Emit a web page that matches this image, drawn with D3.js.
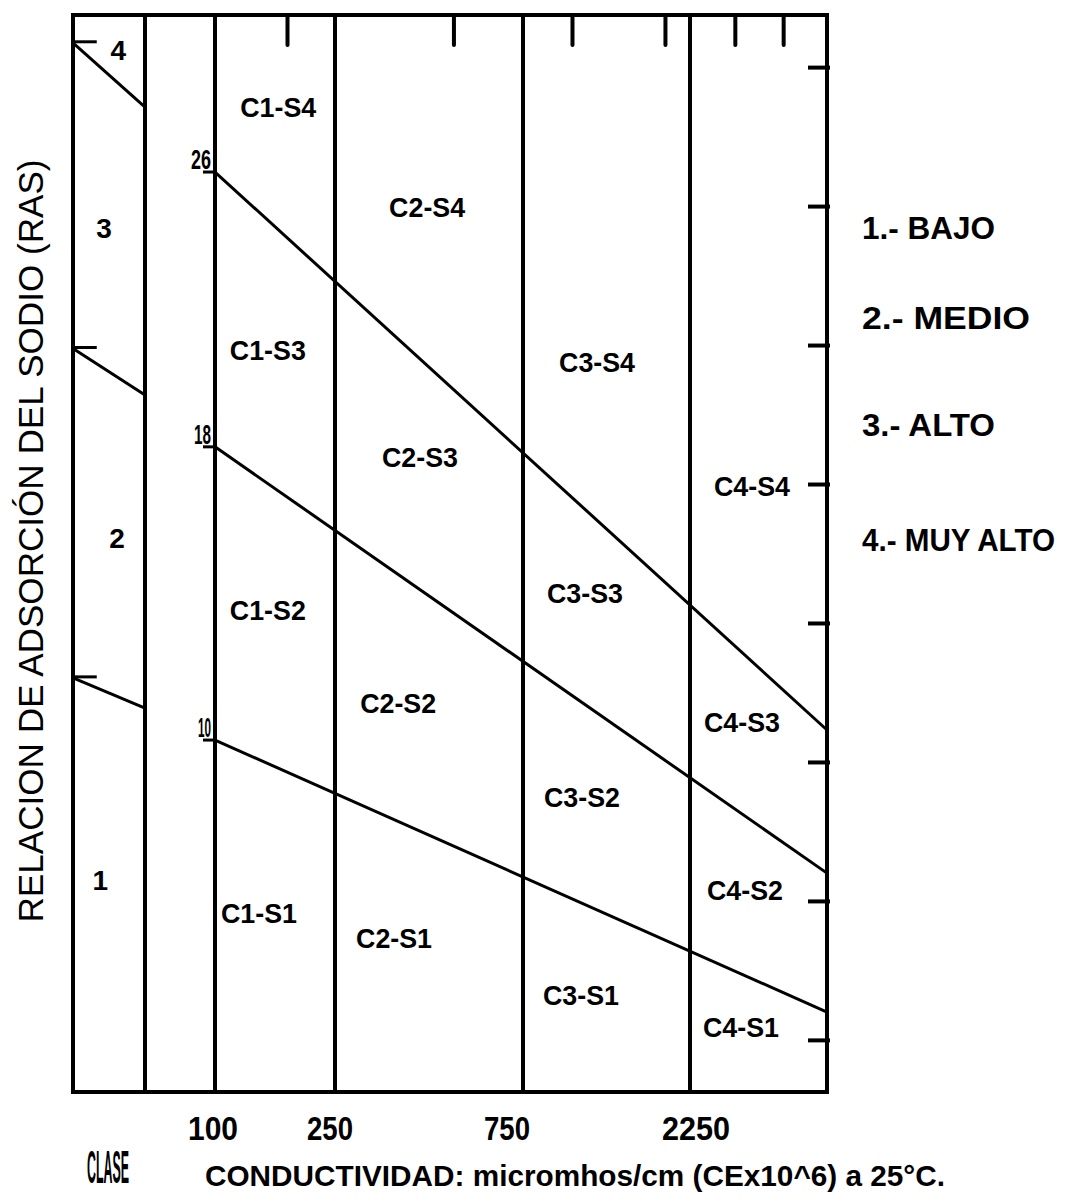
<!DOCTYPE html>
<html><head><meta charset="utf-8">
<script src="https://cdn.jsdelivr.net/npm/d3@7"></script>
<style>body{margin:0;background:#fff}svg{display:block}</style>
</head><body>
<svg id="c" width="1070" height="1202"></svg>
<script>
// ---------- data ----------
const ceBreaks = [100, 250, 750, 2250];          // salinity class boundaries (micromhos/cm)
const ceMax = 5000;
const ceTopTicks = [190, 565, 1190, 2025, 3150, 4120];
const ceTickLabels = ["100", "250", "750", "2250"];
const sarRightTicks = [1.5, 5.5, 9.5, 13.5, 17.5, 21.5, 25.5, 29.5];

const boundaryLabels = ["10", "18", "26"];        // SAR at CE = 100
const boundarySarStart = [10.13, 18.57, 26.48];
const boundarySarEnd = [2.30, 6.30, 10.42];

const classNames = ["1", "2", "3", "4"];
const classSar = [6.1, 15.95, 24.87, 30.0];
const classLineSarLeft = [11.92, 21.4, 30.2];
const classLineSarRight = [11.05, 20.06, 28.35];

const regionNames = ["C1-S4","C2-S4","C3-S4","C4-S4",
                     "C1-S3","C2-S3","C3-S3","C4-S3",
                     "C1-S2","C2-S2","C3-S2","C4-S2",
                     "C1-S1","C2-S1","C3-S1","C4-S1"];
const regionCE = [179, 495, 1415, 3494,
                  166, 476, 1307, 3294,
                  166, 418, 1280, 3354,
                  155, 407, 1271, 3274];
const regionSar = [28.35, 25.47, 21.01, 17.44,
                   21.36, 18.28, 14.36, 10.65,
                   13.87, 11.20, 8.49, 5.81,
                   5.15, 4.43, 2.79, 1.87];

const legendItems = ["1.- BAJO", "2.- MEDIO", "3.- ALTO", "4.- MUY ALTO"];
const yTitle = "RELACION DE ADSORCIÓN DEL SODIO (RAS)";
const xTitle = "CONDUCTIVIDAD: micromhos/cm (CEx10^6) a 25°C.";
const classTitle = "CLASE";

// ---------- layout ----------
const L = 73, R = 827, T = 15, B = 1092;
const FONT = "'Liberation Sans Narrow','Arial Narrow','Liberation Sans',Arial,sans-serif";

const svg = d3.select("#c");
const x = d3.scaleLinear().domain([...ceBreaks, ceMax]).range([215, 335, 523, 690, R]);
const y = d3.scaleLinear().domain([0, 31]).range([B, T]);
const xc = d3.scaleLinear().domain([0, 1]).range([L, 145]); // "clase" column

const g = svg.append("g");

// frame
g.append("rect").attr("x", L).attr("y", T).attr("width", R - L).attr("height", B - T)
  .attr("fill", "none").attr("stroke", "#000").attr("stroke-width", 4);

// class column divider
g.append("line").attr("x1", xc(1)).attr("x2", xc(1)).attr("y1", T).attr("y2", B)
  .attr("stroke", "#000").attr("stroke-width", 4);

// salinity boundaries
g.selectAll("line.ce").data(ceBreaks).join("line").attr("class", "ce")
  .attr("x1", d => x(d)).attr("x2", d => x(d)).attr("y1", T).attr("y2", B)
  .attr("stroke", "#000").attr("stroke-width", 4);

// top ticks
const topAxis = d3.axisBottom(x).tickValues(ceTopTicks).tickSize(30).tickFormat("");
const ta = g.append("g").attr("transform", `translate(0,${T})`).call(topAxis);
ta.select(".domain").remove();
ta.selectAll("line").attr("stroke-width", 4).attr("stroke-linecap", "round");

// right ticks
const rightAxis = d3.axisLeft(y).tickValues(sarRightTicks).tickSize(22).tickFormat("");
const ra = g.append("g").attr("transform", `translate(${R + 3},0)`).call(rightAxis);
ra.select(".domain").remove();
ra.selectAll("line").attr("stroke-width", 4);

// sodium hazard boundary lines
const line = d3.line().x(d => d[0]).y(d => d[1]);
const boundaryLabelWidth = [13, 17, 20];
boundaryLabels.forEach((lab, i) => {
  const pts = [[x(ceBreaks[0]), y(boundarySarStart[i])], [x(ceMax), y(boundarySarEnd[i])]];
  g.append("path").attr("d", line(pts)).attr("fill", "none")
    .attr("stroke", "#000").attr("stroke-width", 3);
  g.append("line").attr("x1", x(ceBreaks[0]) - 12).attr("x2", x(ceBreaks[0]) + 2)
    .attr("y1", y(boundarySarStart[i])).attr("y2", y(boundarySarStart[i]))
    .attr("stroke", "#000").attr("stroke-width", 3);
  g.append("text").attr("x", x(ceBreaks[0]) - 4).attr("y", y(boundarySarStart[i]) - 3)
    .attr("text-anchor", "end").attr("font-family", FONT).attr("font-weight", "bold")
    .attr("font-size", 28).attr("textLength", boundaryLabelWidth[i])
    .attr("lengthAdjust", "spacingAndGlyphs").text(lab);
});

// class column lines
classLineSarLeft.forEach((v, i) => {
  g.append("path").attr("d", line([[xc(0), y(v)], [xc(1), y(classLineSarRight[i])]]))
    .attr("fill", "none").attr("stroke", "#000").attr("stroke-width", 3);
  g.append("line").attr("x1", xc(0)).attr("x2", xc(0.33)).attr("y1", y(v) - 1).attr("y2", y(v) - 1)
    .attr("stroke", "#000").attr("stroke-width", 3);
});

// class numbers
const classColPos = [0.38, 0.61, 0.43, 0.63];
g.selectAll("text.cls").data(classNames).join("text").attr("class", "cls")
  .attr("x", (d, i) => xc(classColPos[i])).attr("y", (d, i) => y(classSar[i]))
  .attr("dy", "0.36em").attr("text-anchor", "middle")
  .attr("font-family", FONT).attr("font-weight", "bold").attr("font-size", 28)
  .text(d => d);

// region labels
g.selectAll("text.reg").data(regionNames).join("text").attr("class", "reg")
  .attr("x", (d, i) => x(regionCE[i])).attr("y", (d, i) => y(regionSar[i]))
  .attr("dy", "0.36em").attr("text-anchor", "middle")
  .attr("font-family", FONT).attr("font-weight", "bold").attr("font-size", 27)
  .attr("textLength", 76).attr("lengthAdjust", "spacingAndGlyphs")
  .text(d => d);

// bottom CE labels
const labelShift = [-2, -5, -16, 6];
const labelWidth = [50, 46, 46, 68];
g.selectAll("text.cel").data(ceTickLabels).join("text").attr("class", "cel")
  .attr("x", (d, i) => x(ceBreaks[i]) + labelShift[i]).attr("y", 1140)
  .attr("text-anchor", "middle").attr("font-family", FONT).attr("font-weight", "bold")
  .attr("font-size", 34).attr("textLength", (d, i) => labelWidth[i])
  .attr("lengthAdjust", "spacingAndGlyphs").text(d => d);

// x title
g.append("text").attr("x", 205).attr("y", 1186).attr("font-family", FONT)
  .attr("font-weight", "bold").attr("font-size", 30)
  .attr("textLength", 740).attr("lengthAdjust", "spacingAndGlyphs")
  .text(xTitle);

// CLASE label (very condensed)
g.append("text").attr("transform", "translate(87,1183) scale(0.27,1)")
  .attr("font-family", FONT).attr("font-weight", "bold").attr("font-size", 46)
  .text(classTitle);

// y title
g.append("text").attr("transform", "translate(43,541) rotate(-90)")
  .attr("text-anchor", "middle").attr("font-family", "'Liberation Sans',Arial,sans-serif")
  .attr("font-size", 35).attr("textLength", 763).attr("lengthAdjust", "spacingAndGlyphs")
  .text(yTitle);

// legend
const legendY = [228, 318, 425, 540];
const legendW = [133, 168, 133, 193];
g.selectAll("text.leg").data(legendItems).join("text").attr("class", "leg")
  .attr("x", 862).attr("y", (d, i) => legendY[i]).attr("dy", "0.36em")
  .attr("font-family", FONT).attr("font-weight", "bold").attr("font-size", 31)
  .attr("textLength", (d, i) => legendW[i]).attr("lengthAdjust", "spacingAndGlyphs")
  .text(d => d);
</script></body></html>
